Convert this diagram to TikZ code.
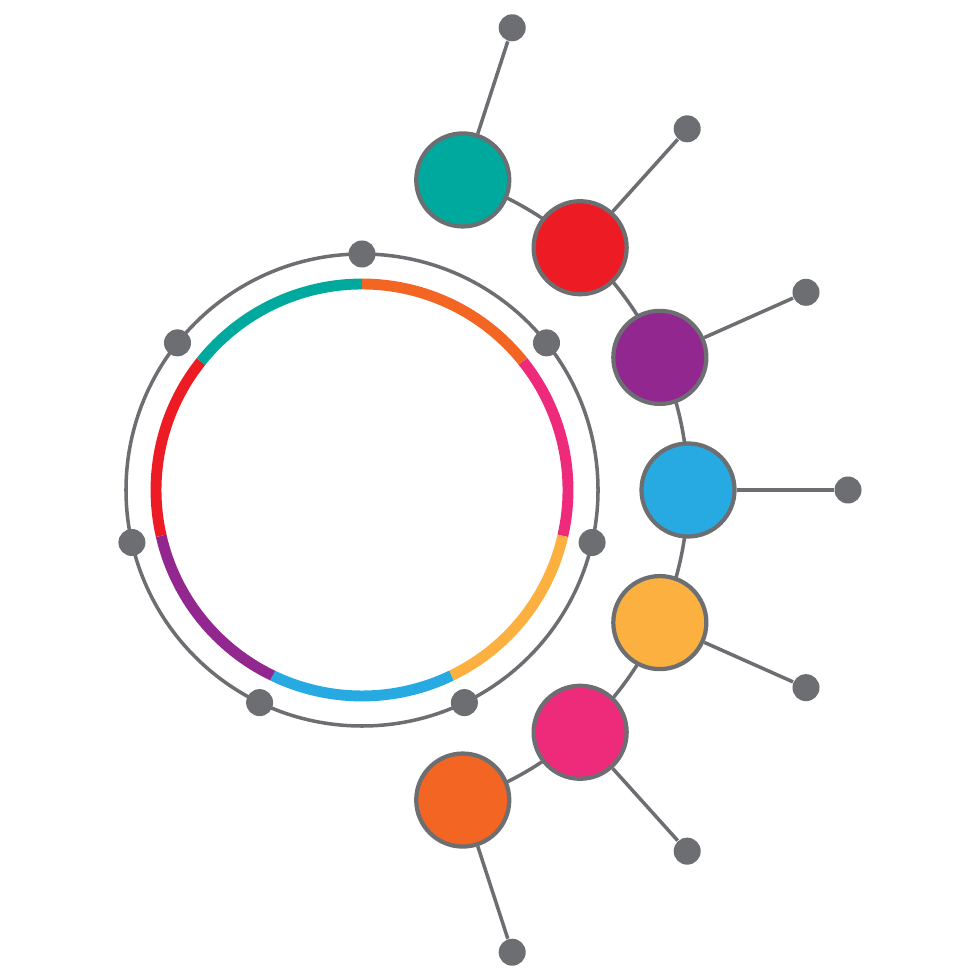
\documentclass[tikz,border=0pt]{standalone}
\definecolor{lgray}{HTML}{6D6E71}
\definecolor{cteal}{HTML}{00A99D}
\definecolor{cred}{HTML}{ED1C24}
\definecolor{cpurple}{HTML}{92278F}
\definecolor{cblue}{HTML}{27AAE1}
\definecolor{cyellow}{HTML}{FBB040}
\definecolor{cpink}{HTML}{EE2A7B}
\definecolor{corange}{HTML}{F26522}
\pgfdeclarelayer{bg}
\pgfsetlayers{bg,main}
\tikzset{
  bub/.style={circle, draw=lgray, line width=1.2pt, minimum size=0.93cm, inner sep=0pt},
  gdot/.style={circle, fill=lgray, minimum size=0.27cm, inner sep=0pt},
  link/.style={draw=lgray, line width=1pt},
  ringseg/.style={line width=3.1pt}
}
\begin{document}
\begin{tikzpicture}[x=0.01cm,y=0.01cm]
\useasboundingbox (-362,-490) rectangle (618,490);
\coordinate (O) at (0,0);
% outer thin circle
\draw[link] (O) circle[radius=236];
% coloured ring
\foreach \c [count=\i from 0] in {corange,cpink,cyellow,cblue,cpurple,cred,cteal}{
  \draw[ringseg, color=\c] ({90-\i*360/7}:206) arc[start angle={90-\i*360/7}, delta angle={-360/7}, radius=206];
}
% dots on outer circle
\foreach \i in {0,...,6}{
  \node[gdot] (r\i) at ({90-\i*360/7}:236) {};
}
% bubbles and outer dots
\foreach \c [count=\i] in {cteal,cred,cpurple,cblue,cyellow,cpink,corange}{
  \node[bub, fill=\c] (c\i) at ({96-\i*24}:326) {};
  \node[gdot] (d\i) at ({96-\i*24}:486) {};
  \begin{pgfonlayer}{bg}
    \draw[link] (c\i) -- (d\i);
  \end{pgfonlayer}
}
\begin{pgfonlayer}{bg}
\foreach \i in {1,...,6}{
  \draw[link] (c\i.center) arc[start angle={96-\i*24}, delta angle=-24, radius=326];
}
\end{pgfonlayer}
\end{tikzpicture}
\end{document}
